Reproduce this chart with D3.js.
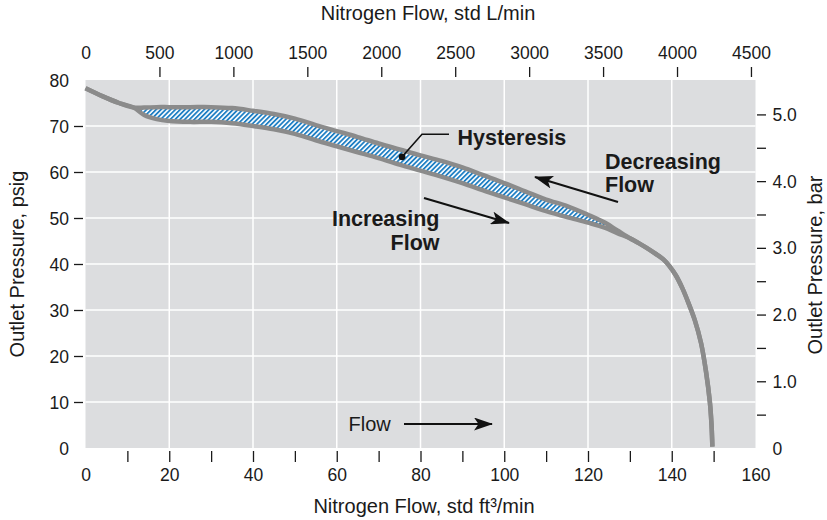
<!DOCTYPE html>
<html>
<head>
<meta charset="utf-8">
<script src="https://cdn.jsdelivr.net/npm/d3@7/dist/d3.min.js"></script>
<style>
    body { margin: 0; background: #fff; }
    svg text { font-family: "Liberation Sans", Arial, Helvetica, sans-serif; fill: #1a1a1a; }
</style>
</head>
<body>
<svg id="chart" width="827" height="520"></svg>
<script>
// curve shared by both directions before the loop opens
var headFlow = [0, 4, 8, 11.5];
var headPsig = [78.2, 76.5, 75.0, 74.0];

// hysteresis loop, std ft3/min vs psig
var loopFlow = [11.5, 14, 17, 20, 25, 30, 35, 40, 45, 50, 55, 60, 65, 70, 75, 80, 85, 90, 95, 100, 105, 110, 115, 120, 124, 127, 130];
var decreasingPsig = [74.0, 74.0, 74.1, 74.1, 74.1, 74.1, 73.9, 73.3, 72.6, 71.6, 70.2, 68.9, 67.6, 66.2, 64.9, 63.6, 62.4, 61.0, 59.3, 57.6, 55.8, 54.0, 52.6, 50.7, 49.0, 47.3, 45.6];
var increasingPsig = [74.0, 72.4, 71.5, 71.1, 70.9, 70.9, 70.6, 70.0, 69.3, 68.3, 66.9, 65.6, 64.3, 63.0, 61.6, 60.3, 59.0, 57.6, 56.0, 54.5, 53.0, 51.5, 50.2, 49.0, 47.9, 46.7, 45.6];

// shared tail, pressure drops off
var tailFlow = [130, 132, 134, 136, 138, 139.5, 141, 142.5, 144, 145.5, 147, 148.2, 149.1, 149.5, 149.7];
var tailPsig = [45.6, 44.6, 43.5, 42.3, 41.0, 39.5, 37.5, 34.8, 31.5, 27.8, 22.8, 16.5, 10.0, 5.0, 0.3];

// axis ticks
var bottomLabels = [0, 20, 40, 60, 80, 100, 120, 140, 160];
var bottomTicks = [10, 20, 30, 40, 50, 60, 70, 80, 90, 100, 110, 120, 130, 140, 150];
var leftLabels = [0, 10, 20, 30, 40, 50, 60, 70, 80];
var leftTicks = [10, 20, 30, 40, 50, 60, 70];
var topLabels = [0, 500, 1000, 1500, 2000, 2500, 3000, 3500, 4000, 4500];
var topTicks = [500, 1000, 1500, 2000, 2500, 3000, 3500, 4000, 4500];
var rightLabels = [0, 1, 2, 3, 4, 5];
var rightTicks = [0.5, 1, 1.5, 2, 2.5, 3, 3.5, 4, 4.5, 5];

var LPM_PER_SCFM = 28.3168;
var PSI_PER_BAR = 14.5038;

var plot = { left: 85.5, right: 755.5, top: 80, bottom: 448 };
var svg = d3.select("#chart");

var x = d3.scaleLinear().domain([0, 160]).range([plot.left, plot.right]);
var y = d3.scaleLinear().domain([0, 80]).range([plot.bottom, plot.top]);
var xL = d3.scaleLinear().domain([0, 160 * LPM_PER_SCFM]).range([plot.left, plot.right]);
var yBar = d3.scaleLinear().domain([0, 80 / PSI_PER_BAR]).range([plot.bottom, plot.top]);

// hatch pattern for the hysteresis band
var defs = svg.append("defs");
var pat = defs.append("pattern")
    .attr("id", "hatch")
    .attr("patternUnits", "userSpaceOnUse")
    .attr("width", 3.4)
    .attr("height", 3.4)
    .attr("patternTransform", "rotate(45)");
pat.append("rect").attr("width", 3.4).attr("height", 3.4).attr("fill", "#ffffff");
pat.append("rect").attr("width", 1.8).attr("height", 3.4).attr("fill", "#1f7fc4");

defs.append("marker")
    .attr("id", "head")
    .attr("markerUnits", "userSpaceOnUse")
    .attr("viewBox", "0 0 19 13")
    .attr("markerWidth", 19)
    .attr("markerHeight", 13)
    .attr("refX", 18)
    .attr("refY", 6.5)
    .attr("orient", "auto")
    .append("path")
    .attr("d", "M0,0 L19,6.5 L0,13 L4.5,6.5 Z")
    .attr("fill", "#111");

// plot background + grid
svg.append("rect")
    .attr("x", plot.left).attr("y", plot.top)
    .attr("width", plot.right - plot.left).attr("height", plot.bottom - plot.top)
    .attr("fill", "#dcdddf");

svg.append("g").selectAll("line")
    .data([20, 40, 60, 80, 100, 120, 140])
    .enter().append("line")
    .attr("x1", function (d) { return x(d); }).attr("x2", function (d) { return x(d); })
    .attr("y1", plot.top).attr("y2", plot.bottom)
    .attr("stroke", "#fff").attr("stroke-width", 1.5);

svg.append("g").selectAll("line")
    .data(leftTicks)
    .enter().append("line")
    .attr("y1", function (d) { return y(d); }).attr("y2", function (d) { return y(d); })
    .attr("x1", plot.left).attr("x2", plot.right)
    .attr("stroke", "#fff").attr("stroke-width", 1.5);

// build the two branches
function pts(fx, fy) {
    return fx.map(function (f, i) { return { f: f, p: fy[i] }; });
}
var upper = pts(headFlow, headPsig).concat(pts(loopFlow, decreasingPsig).slice(1), pts(tailFlow, tailPsig).slice(1));
var lower = pts(headFlow, headPsig).concat(pts(loopFlow, increasingPsig).slice(1), pts(tailFlow, tailPsig).slice(1));

var curve = d3.curveCatmullRom.alpha(0.5);
var line = d3.line()
    .x(function (d) { return x(d.f); })
    .y(function (d) { return y(d.p); })
    .curve(curve);

var band = d3.area()
    .x(function (d, i) { return x(loopFlow[i]); })
    .y0(function (d, i) { return y(increasingPsig[i]); })
    .y1(function (d, i) { return y(decreasingPsig[i]); })
    .curve(curve);

svg.append("path")
    .attr("d", band(loopFlow))
    .attr("fill", "url(#hatch)");

[upper, lower].forEach(function (branch) {
    svg.append("path")
        .attr("d", line(branch))
        .attr("fill", "none")
        .attr("stroke", "#8b8b8b")
        .attr("stroke-width", 4.5)
        .attr("stroke-linejoin", "round");
});

// axes
var tickStyle = function (g) {
    g.select(".domain").remove();
    g.selectAll(".tick line").attr("stroke", "#1a1a1a").attr("stroke-width", 1.3);
    g.selectAll(".tick text").attr("font-size", "17.5px").attr("fill", "#1a1a1a")
        .attr("font-family", "'Liberation Sans', Arial, Helvetica, sans-serif");
};

svg.append("g").attr("transform", "translate(0,451)")
    .call(d3.axisBottom(x).tickValues(bottomTicks).tickSize(11).tickFormat(""))
    .call(tickStyle);
svg.append("g").attr("transform", "translate(0,481)")
    .call(d3.axisBottom(x).tickValues(bottomLabels).tickSize(0).tickPadding(0))
    .call(tickStyle)
    .selectAll(".tick text").attr("y", 0).attr("dy", 0);

svg.append("g").attr("transform", "translate(0,77)")
    .call(d3.axisTop(xL).tickValues(topTicks).tickSize(10).tickFormat(""))
    .call(tickStyle);
svg.append("g").attr("transform", "translate(0,59)")
    .call(d3.axisTop(xL).tickValues(topLabels).tickSize(0).tickPadding(0).tickFormat(d3.format("d")))
    .call(tickStyle)
    .selectAll(".tick text").attr("y", 0).attr("dy", 0);

svg.append("g").attr("transform", "translate(83,0)")
    .call(d3.axisLeft(y).tickValues(leftTicks).tickSize(9).tickFormat(""))
    .call(tickStyle);
svg.append("g").attr("transform", "translate(69,0)")
    .call(d3.axisLeft(y).tickValues(leftLabels).tickSize(0).tickPadding(0))
    .call(tickStyle)
    .selectAll(".tick text").attr("x", 0).attr("dy", "0.35em");

svg.append("g").attr("transform", "translate(757,0)")
    .call(d3.axisRight(yBar).tickValues(rightTicks).tickSize(9).tickFormat(""))
    .call(tickStyle);
svg.append("g").attr("transform", "translate(772.5,0)")
    .call(d3.axisRight(yBar).tickValues(rightLabels).tickSize(0).tickPadding(0)
        .tickFormat(function (d) { return d === 0 ? "0" : d3.format(".1f")(d); }))
    .call(tickStyle)
    .selectAll(".tick text").attr("x", 0).attr("dy", "0.35em");

// axis titles
svg.append("text").attr("x", 428).attr("y", 20).attr("text-anchor", "middle")
    .attr("font-size", "20px").text("Nitrogen Flow, std L/min");
svg.append("text").attr("x", 424).attr("y", 513).attr("text-anchor", "middle")
    .attr("font-size", "20px").text("Nitrogen Flow, std ft³/min");
svg.append("text").attr("transform", "translate(24,264) rotate(-90)").attr("text-anchor", "middle")
    .attr("font-size", "20px").text("Outlet Pressure, psig");
svg.append("text").attr("transform", "translate(822,265) rotate(-90)").attr("text-anchor", "middle")
    .attr("font-size", "20px").text("Outlet Pressure, bar");

// annotations
function arrow(x1, y1, x2, y2) {
    svg.append("line")
        .attr("x1", x1).attr("y1", y1).attr("x2", x2).attr("y2", y2)
        .attr("stroke", "#111").attr("stroke-width", 2.2)
        .attr("marker-end", "url(#head)");
}
arrow(424, 198, 509, 223);
arrow(618, 202, 535, 177);
arrow(404, 424, 492, 424);

svg.append("text").attr("x", 348.5).attr("y", 431).attr("font-size", "20px").text("Flow");

var bold = svg.append("g").attr("font-size", "21.5px").attr("font-weight", "bold");
bold.append("text").attr("x", 439.5).attr("y", 226).attr("text-anchor", "end").text("Increasing");
bold.append("text").attr("x", 439.5).attr("y", 249.5).attr("text-anchor", "end").text("Flow");
bold.append("text").attr("x", 605).attr("y", 169).text("Decreasing");
bold.append("text").attr("x", 605).attr("y", 192).text("Flow");
bold.append("text").attr("x", 457.5).attr("y", 144.5).text("Hysteresis");

svg.append("path")
    .attr("d", "M" + x(75.6) + "," + y(63.3) + " L422,134.3 L449,134.3")
    .attr("fill", "none").attr("stroke", "#111").attr("stroke-width", 1.6);
svg.append("circle").attr("cx", x(75.6)).attr("cy", y(63.3)).attr("r", 3.4).attr("fill", "#111");
</script>
</body>
</html>
